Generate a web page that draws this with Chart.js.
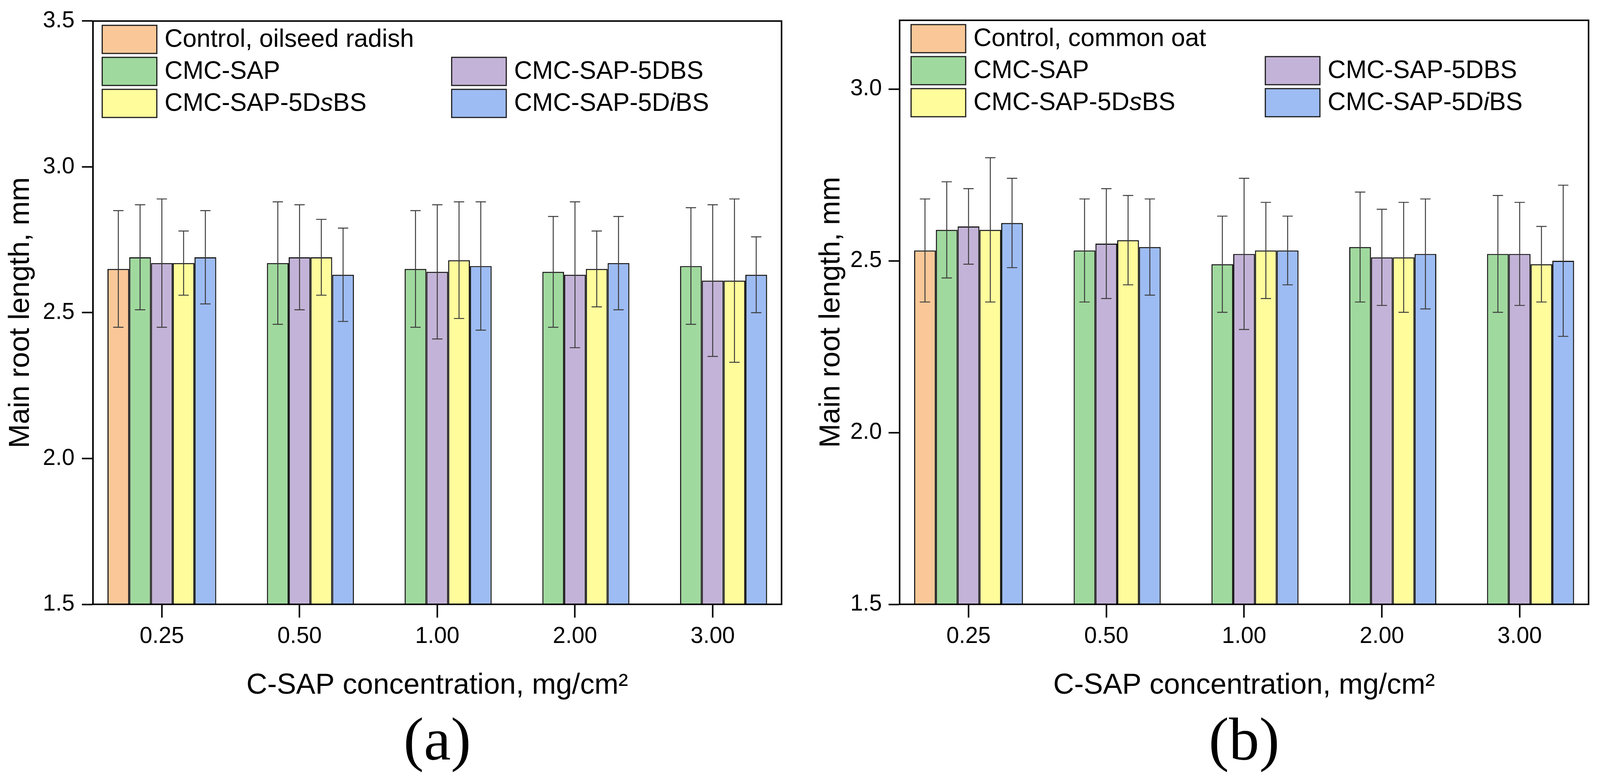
<!DOCTYPE html>
<html>
<head>
<meta charset="utf-8">
<script src="https://cdn.jsdelivr.net/npm/chart.js@4.4.0/dist/chart.umd.min.js"></script>
<style>
  html, body { margin: 0; padding: 0; background: #fff; }
  #wrap { position: relative; overflow: hidden; }
  canvas { position: absolute; top: 0; }
</style>
</head>
<body>
<div id="wrap">
  <canvas id="chartA"></canvas>
  <canvas id="chartB"></canvas>
</div>
<script>
// categories and series
const concentrations = ["0.25", "0.50", "1.00", "2.00", "3.00"];
const seriesColors = ["#FAC898", "#A0D99E", "#C4B3D8", "#FFFC9C", "#9DBCF3"];
const seriesLegend = ["CMC-SAP", "CMC-SAP-5DBS", "CMC-SAP-5D<i>s</i>BS", "CMC-SAP-5D<i>i</i>BS"];
const seriesNames = ["CMC-SAP", "CMC-SAP-5DBS", "CMC-SAP-5DsBS", "CMC-SAP-5DiBS"];

// (a) oilseed radish
const radishControl    = [2.65, null, null, null, null];
const radishControlErr = [0.20, null, null, null, null];
const radishSAP        = [2.69, 2.67, 2.65, 2.64, 2.66];
const radishSAPErr     = [0.18, 0.21, 0.20, 0.19, 0.20];
const radishDBS        = [2.67, 2.69, 2.64, 2.63, 2.61];
const radishDBSErr     = [0.22, 0.18, 0.23, 0.25, 0.26];
const radishDsBS       = [2.67, 2.69, 2.68, 2.65, 2.61];
const radishDsBSErr    = [0.11, 0.13, 0.20, 0.13, 0.28];
const radishDiBS       = [2.69, 2.63, 2.66, 2.67, 2.63];
const radishDiBSErr    = [0.16, 0.16, 0.22, 0.16, 0.13];

// (b) common oat
const oatControl    = [2.53, null, null, null, null];
const oatControlErr = [0.15, null, null, null, null];
const oatSAP        = [2.59, 2.53, 2.49, 2.54, 2.52];
const oatSAPErr     = [0.14, 0.15, 0.14, 0.16, 0.17];
const oatDBS        = [2.60, 2.55, 2.52, 2.51, 2.52];
const oatDBSErr     = [0.11, 0.16, 0.22, 0.14, 0.15];
const oatDsBS       = [2.59, 2.56, 2.53, 2.51, 2.49];
const oatDsBSErr    = [0.21, 0.13, 0.14, 0.16, 0.11];
const oatDiBS       = [2.61, 2.54, 2.53, 2.52, 2.50];
const oatDiBSErr    = [0.13, 0.14, 0.10, 0.16, 0.22];

const yTicksA = [1.5, 2.0, 2.5, 3.0, 3.5];
const yTicksB = [1.5, 2.0, 2.5, 3.0];

// layout numbers are for 4336x1998, scaled to the real window
const W = window.innerWidth, H = window.innerHeight;
const SX = W / 4336, SY = H / 1998, SF = (SX + SY) / 2;
const kx = v => v * SX, ky = v => v * SY, kf = v => v * SF;

const wrap = document.getElementById("wrap");
wrap.style.width = W + "px";
wrap.style.height = H + "px";

const FONT = '"Liberation Sans", Arial, sans-serif';
Chart.defaults.font.family = FONT;
Chart.defaults.color = "#000";

// error bars drawn from dataset.errors, plus the plot frame
const errorBars = {
  id: "errorBars",
  afterDatasetsDraw(chart) {
    const ctx = chart.ctx, y = chart.scales.y;
    ctx.save();
    ctx.strokeStyle = "#3a3a3a";
    ctx.lineWidth = kf(2.5);
    chart.data.datasets.forEach((ds, i) => {
      const meta = chart.getDatasetMeta(i);
      meta.data.forEach((bar, j) => {
        const v = ds.data[j], e = ds.errors[j];
        if (v == null || e == null) return;
        const top = y.getPixelForValue(v + e);
        const bot = y.getPixelForValue(v - e);
        const cap = kx(14);
        ctx.beginPath();
        ctx.moveTo(bar.x, top); ctx.lineTo(bar.x, bot);
        ctx.moveTo(bar.x - cap, top); ctx.lineTo(bar.x + cap, top);
        ctx.moveTo(bar.x - cap, bot); ctx.lineTo(bar.x + cap, bot);
        ctx.stroke();
      });
    });
    const a = chart.chartArea;
    ctx.strokeStyle = "#000";
    ctx.lineWidth = kf(4);
    ctx.strokeRect(a.left, a.top, a.right - a.left, a.bottom - a.top);
    ctx.restore();
  }
};

// legend in 2 columns, control alone on first row; panel letter below
const boxLegend = {
  id: "boxLegend",
  afterDraw(chart, args, o) {
    const ctx = chart.ctx, a = chart.chartArea;
    ctx.save();
    ctx.textBaseline = "middle";
    ctx.textAlign = "left";
    chart.data.datasets.forEach((ds, i) => {
      const [col, row] = o.slots[i];
      const x = a.left + kx(o.colX[col]), y = a.top + ky(o.rowY[row]);
      const bw = kx(148), bh = ky(72);
      ctx.fillStyle = ds.backgroundColor;
      ctx.fillRect(x, y, bw, bh);
      ctx.lineWidth = kf(3);
      ctx.strokeStyle = "#1a1a1a";
      ctx.strokeRect(x, y, bw, bh);
      let tx = x + kx(169);
      ctx.fillStyle = "#000";
      ds.legendText.split(/(<i>.*?<\/i>)/).forEach(part => {
        if (!part) return;
        const it = part.startsWith("<i>");
        const t = it ? part.slice(3, -4) : part;
        ctx.font = (it ? "italic " : "") + kf(66) + "px " + FONT;
        ctx.fillText(t, tx, y + ky(37));
        tx += ctx.measureText(t).width;
      });
    });
    ctx.font = kf(160) + 'px "Liberation Serif", "Times New Roman", serif';
    ctx.textAlign = "center";
    ctx.fillText(o.letter, (a.left + a.right) / 2, ky(1904));
    ctx.restore();
  }
};

function makeChart(id, left, p) {
  const canvas = document.getElementById(id);
  const cw = Math.round(kx(2168)), ch = H;
  canvas.style.left = Math.round(kx(left)) + "px";
  canvas.style.width = cw + "px";
  canvas.style.height = ch + "px";
  canvas.width = cw;
  canvas.height = ch;
  const values = [p.control, ...p.series];
  const errs = [p.controlErr, ...p.seriesErr];
  const names = [p.controlName, ...seriesNames];
  const legendTexts = [p.controlName, ...seriesLegend];
  return new Chart(canvas, {
    type: "bar",
    data: {
      labels: concentrations,
      datasets: values.map((d, i) => ({
        label: names[i],
        legendText: legendTexts[i],
        data: d,
        errors: errs[i],
        backgroundColor: seriesColors[i],
        borderColor: "#1a1a1a",
        borderWidth: kf(3),
        categoryPercentage: 0.79,
        barPercentage: 1.0
      }))
    },
    options: {
      responsive: false,
      animation: false,
      devicePixelRatio: 1,
      layout: { padding: { left: 0, top: ky(46), right: kx(p.padRight), bottom: 0 } },
      plugins: {
        legend: { display: false },
        tooltip: { enabled: false },
        boxLegend: { slots: [[0, 0], [0, 1], [1, 1], [0, 2], [1, 2]], colX: p.colX, rowY: [11, 93, 175], letter: p.letter }
      },
      scales: {
        x: {
          afterFit(s) { s.height = ky(450); },
          grid: { display: true, offset: false, drawOnChartArea: false, tickLength: ky(34), tickWidth: kf(4), tickColor: "#000" },
          border: { display: true, color: "#000", width: kf(4) },
          ticks: { font: { size: kf(60) }, color: "#000", padding: ky(14) },
          title: {
            display: true,
            text: "C-SAP concentration, mg/cm\u00B2",
            font: { size: kf(76) },
            color: "#000",
            padding: { top: 0, bottom: ky(197) }
          }
        },
        y: {
          min: 1.5,
          max: p.yMax,
          afterFit(s) { s.width = kx(p.yWidth); },
          afterBuildTicks(s) { s.ticks = p.yTicks.map(v => ({ value: v })); },
          grid: { display: true, drawOnChartArea: false, tickLength: kx(30), tickWidth: kf(4), tickColor: "#000" },
          border: { display: true, color: "#000", width: kf(4) },
          ticks: { font: { size: kf(60) }, color: "#000", padding: kx(p.tickPad), callback: v => Number(v).toFixed(1) },
          title: {
            display: true,
            text: "Main root length, mm",
            font: { size: kf(76) },
            color: "#000",
            padding: { top: kx(p.titlePad), bottom: 0 }
          }
        }
      }
    },
    plugins: [errorBars, boxLegend]
  });
}

makeChart("chartA", 0, {
  controlName: "Control, oilseed radish",
  control: radishControl, controlErr: radishControlErr,
  series: [radishSAP, radishDBS, radishDsBS, radishDiBS],
  seriesErr: [radishSAPErr, radishDBSErr, radishDsBSErr, radishDiBSErr],
  yMax: 3.5, yTicks: yTicksA, yWidth: 252, padRight: 50, tickPad: 20, titlePad: 10,
  colX: [25, 972], letter: "(a)"
});

makeChart("chartB", 2168, {
  controlName: "Control, common oat",
  control: oatControl, controlErr: oatControlErr,
  series: [oatSAP, oatDBS, oatDsBS, oatDiBS],
  seriesErr: [oatSAPErr, oatDBSErr, oatDsBSErr, oatDiBSErr],
  yMax: 3.2, yTicks: yTicksB, yWidth: 270, padRight: 31, tickPad: 18, titlePad: 38,
  colX: [31, 991], letter: "(b)"
});
</script>
</body>
</html>
